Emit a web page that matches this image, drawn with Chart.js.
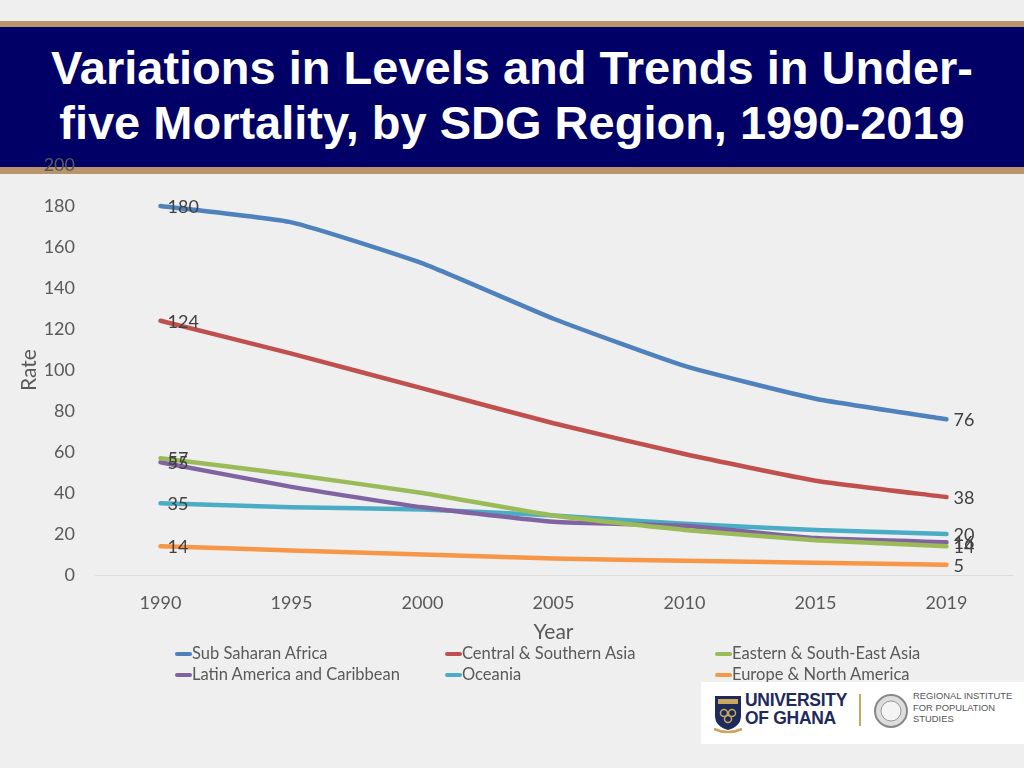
<!DOCTYPE html>
<html>
<head>
<meta charset="utf-8">
<script src="https://cdn.jsdelivr.net/npm/chart.js@4.4.0/dist/chart.umd.min.js"></script>
<style>
  html, body { margin: 0; padding: 0; }
  body { width: 1024px; height: 768px; overflow: hidden; background: #efefef; position: relative; font-family: Lato, "Open Sans", sans-serif; }
  #banner { position: absolute; left: 0; top: 21px; width: 1024px; height: 140px; background: #000066;
            border-top: 6px solid #b8956a; border-bottom: 7px solid #b8956a; }
  #title { position: absolute; left: 0; top: 40px; width: 1024px; text-align: center; color: #fff;
           font-family: "Liberation Sans", Arial, sans-serif; font-weight: bold; font-size: 47px; line-height: 55px; }
  #chart { position: absolute; left: 0; top: 0; }
  #legend { position: absolute; left: 175px; top: 643px; width: 820px; }
  .leg-item { position: absolute; font-size: 16.5px; color: #595959; white-space: nowrap; line-height: 20px; }
  .leg-item span.mk { display: inline-block; width: 17px; height: 4px; border-radius: 2px; vertical-align: middle; position: relative; top: -1px; }
  #logo { position: absolute; left: 701px; top: 682px; width: 323px; height: 62px; background: #fff; }
  #logo .uog { position: absolute; left: 44px; top: 9px; font-family: "Liberation Sans", Arial, sans-serif; font-weight: bold;
               font-size: 17.5px; line-height: 18px; color: #1f2a5c; letter-spacing: -0.3px; }
  #logo .div { position: absolute; left: 158px; top: 12px; width: 2px; height: 32px; background: #c9a85c; }
  #logo .rips { position: absolute; left: 212px; top: 8px; font-family: "Liberation Sans", Arial, sans-serif;
                font-size: 9.4px; line-height: 11.5px; color: #555; }
</style>
</head>
<body>
<div id="banner"></div>
<div id="title">Variations in Levels and Trends in Under-<br>five Mortality, by SDG Region, 1990-2019</div>
<canvas id="chart" width="1024" height="768"></canvas>
<div id="legend"></div>
<div id="logo">
  <svg style="position:absolute;left:12px;top:12px" width="30" height="40" viewBox="0 0 30 40">
    <path d="M2 2 H28 V22 Q28 32 15 36 Q2 32 2 22 Z" fill="#1f2a5c"/>
    <rect x="5" y="5" width="20" height="5" fill="#c9a85c"/>
    <circle cx="11" cy="19" r="3.5" fill="none" stroke="#c9a85c" stroke-width="1.5"/>
    <circle cx="19" cy="19" r="3.5" fill="none" stroke="#c9a85c" stroke-width="1.5"/>
    <circle cx="15" cy="25" r="3.5" fill="none" stroke="#c9a85c" stroke-width="1.5"/>
    <path d="M1 35 Q15 41 29 35" stroke="#c9a85c" stroke-width="2.5" fill="none"/>
  </svg>
  <div class="uog">UNIVERSITY<br>OF GHANA</div>
  <div class="div"></div>
  <svg style="position:absolute;left:172px;top:11px" width="36" height="36" viewBox="0 0 36 36">
    <circle cx="18" cy="18" r="16" fill="#ddd" stroke="#888" stroke-width="2"/>
    <circle cx="18" cy="18" r="10" fill="#f4f4f4" stroke="#999" stroke-width="1"/>
  </svg>
  <div class="rips">REGIONAL INSTITUTE<br>FOR POPULATION<br>STUDIES</div>
</div>

<script>
// Categories
const years = ['1990', '1995', '2000', '2005', '2010', '2015', '2019'];

// Under-five mortality by SDG region
const subSaharanAfrica = [180, 172, 152, 125, 102, 86, 76];
const centralSouthernAsia = [124, 108, 91, 74, 59, 46, 38];
const easternSouthEastAsia = [57, 49, 40, 29, 22, 17, 14];
const latinAmerica = [55, 43, 33, 26, 24, 18, 16];
const oceania = [35, 33, 32, 29, 25, 22, 20];
const europeNorthAmerica = [14, 12, 10, 8, 7, 6, 5];

const seriesNames = ['Sub Saharan Africa', 'Central & Southern Asia', 'Eastern & South-East Asia',
                     'Latin America and Caribbean', 'Oceania', 'Europe & North America'];
const seriesData = [subSaharanAfrica, centralSouthernAsia, easternSouthEastAsia, latinAmerica, oceania, europeNorthAmerica];
const seriesColors = ['#4f81bd', '#c0504d', '#9bbb59', '#8064a2', '#4bacc6', '#f79646'];

// y tick range
const yMin = 0, yMax = 200, yStep = 20;

// labels at first and last point
const endLabels = {
    id: 'endLabels',
    afterDatasetsDraw(chart) {
        const ctx = chart.ctx;
        ctx.save();
        ctx.font = '18px Lato';
        ctx.fillStyle = '#404040';
        ctx.textBaseline = 'middle';
        ctx.textAlign = 'left';
        chart.data.datasets.forEach((ds, i) => {
            const pts = chart.getDatasetMeta(i).data;
            [0, pts.length - 1].forEach(j => {
                ctx.fillText(ds.data[j], pts[j].x + 7, pts[j].y + 1);
            });
        });
        ctx.restore();
    }
};

const datasets = seriesNames.map((name, i) => ({
    label: name,
    data: seriesData[i],
    borderColor: seriesColors[i],
    backgroundColor: seriesColors[i],
    borderWidth: 4.5,
    borderCapStyle: 'round',
    pointRadius: 0,
    tension: 0.15,
    fill: false
}));

new Chart(document.getElementById('chart').getContext('2d'), {
    type: 'line',
    data: { labels: years, datasets: datasets },
    options: {
        responsive: false,
        animation: false,
        layout: { padding: { top: 165, left: 0, right: 12, bottom: 123 } },
        plugins: { legend: { display: false }, tooltip: { enabled: false } },
        scales: {
            x: {
                offset: true,
                grid: { display: false, drawTicks: false },
                border: { display: true, color: '#dcdcdc', width: 1 },
                ticks: { color: '#595959', font: { family: 'Lato', size: 18 }, padding: 17, maxRotation: 0, autoSkip: false },
                title: { display: true, text: 'Year', color: '#595959', font: { family: 'Lato', size: 21 }, padding: { top: 0, bottom: 0 } },
                afterFit(scale) { scale.height = 70; }
            },
            y: {
                min: yMin, max: yMax,
                grid: { display: false, drawTicks: false },
                border: { display: false },
                ticks: { stepSize: yStep, color: '#595959', font: { family: 'Lato', size: 18 }, padding: 20 },
                title: { display: true, text: 'Rate', color: '#595959', font: { family: 'Lato', size: 21 }, padding: { top: 17, bottom: 0 } },
                afterFit(scale) { scale.width = 95; }
            }
        }
    },
    plugins: [endLabels]
});

// Legend in a 3-column grid
const legend = document.getElementById('legend');
seriesNames.forEach((name, i) => {
    const item = document.createElement('div');
    item.className = 'leg-item';
    item.style.left = (i % 3) * 270 + 'px';
    item.style.top = Math.floor(i / 3) * 21 + 'px';
    item.innerHTML = `<span class="mk" style="background:${seriesColors[i]}"></span>${name}`;
    legend.appendChild(item);
});
</script>
</body>
</html>
